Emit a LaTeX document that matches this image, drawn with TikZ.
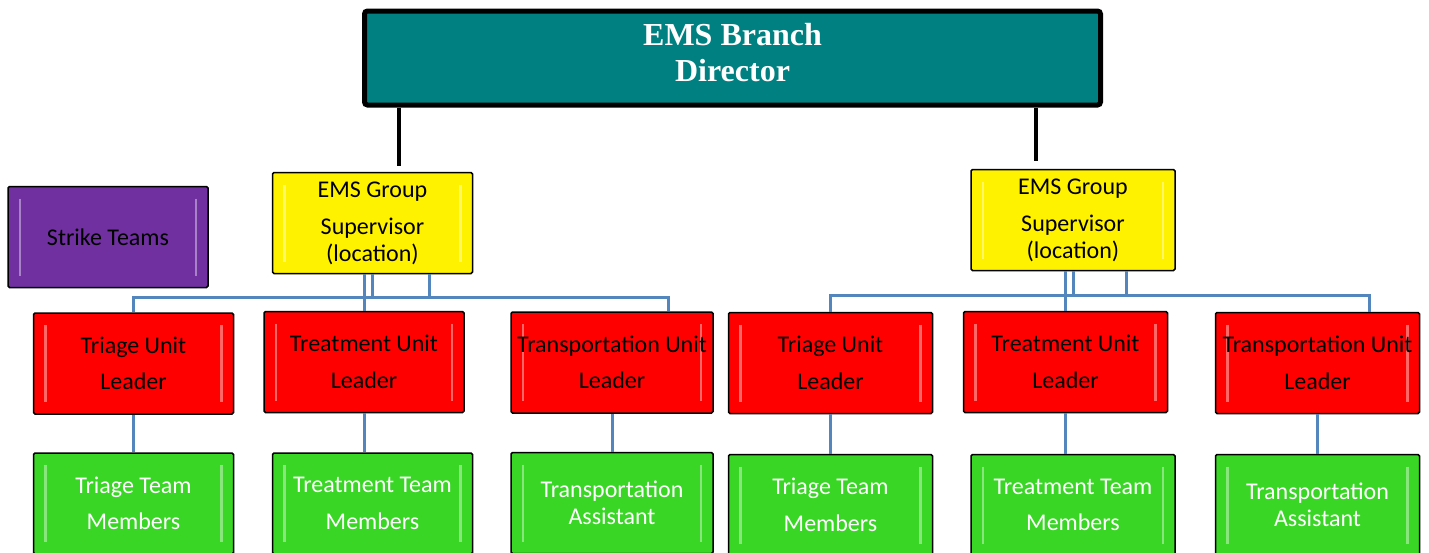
\documentclass[tikz,border=0pt]{standalone}
\usepackage{fontspec}
\setmainfont{Carlito}
\newfontfamily\headfont{Liberation Serif}
\definecolor{emsteal}{RGB}{0,128,128}
\definecolor{emspurple}{RGB}{112,48,160}
\definecolor{emsgreen}{RGB}{58,214,38}
\definecolor{linkblue}{RGB}{84,134,190}
\tikzset{
  bevel/.style={path picture={
    \draw[white,opacity=0.4,line width=2.5pt]
      ([shift={(12pt,-12pt)}]path picture bounding box.north west) --
      ([shift={(12pt,12pt)}]path picture bounding box.south west);
    \draw[white,opacity=0.4,line width=2.5pt]
      ([shift={(-12pt,-12pt)}]path picture bounding box.north east) --
      ([shift={(-12pt,12pt)}]path picture bounding box.south east);}},
  unit/.style={draw=black,line width=1.5pt,rounded corners=1.5pt,
    minimum width=200pt,minimum height=101pt,inner sep=0pt,align=center,
    font=\fontsize{24}{26.5}\selectfont,bevel},
  wide/.style={minimum width=204pt},
  leader/.style={unit,fill=red},
  member/.style={unit,fill=emsgreen,text=white},
  director/.style={draw=black,line width=5pt,rounded corners=3pt,fill=emsteal,
    minimum width=736pt,minimum height=94pt,align=center,text=white,text depth=11pt,
    font=\headfont\bfseries\fontsize{32}{36}\selectfont},
  link/.style={draw=linkblue,line width=3pt},
  boss/.style={draw=black,line width=4pt}
}
\begin{document}
\begin{tikzpicture}[x=1pt,y=-1pt]
\useasboundingbox (0,0) rectangle (1429,552);
\clip (0,0) rectangle (1429,552);
\node[director] (director) at (732.5,58) {EMS Branch\\Director};
\node[unit,fill=emspurple] (strike) at (108,237) {Strike Teams};
\node[unit,fill=yellow] (supL) at (372.5,223) {EMS Group\\[11pt]Supervisor\\(location)};
\node[unit,wide,fill=yellow] (supR) at (1073,220) {EMS Group\\[11pt]Supervisor\\(location)};

\node[leader] (triageL) at (133.5,363.5) {Triage Unit\\[10pt]Leader};
\node[leader] (treatL) at (364,362) {Treatment Unit\\[10pt]Leader};
\node[leader,minimum width=202pt] (transL) at (612,362.5) {Transportation Unit\\[10pt]Leader};
\node[leader,wide] (triageR) at (830.5,363) {Triage Unit\\[10pt]Leader};
\node[leader,wide] (treatR) at (1065.5,362) {Treatment Unit\\[10pt]Leader};
\node[leader,wide] (transR) at (1317.5,363) {Transportation Unit\\[10pt]Leader};

\node[member] (triageTL) at (133.5,503.5) {Triage Team\\[10pt]Members};
\node[member] (treatTL) at (372.5,503.5) {Treatment Team\\[10pt]Members};
\node[member,minimum width=202pt] (transTL) at (612,503) {Transportation\\Assistant};
\node[member,wide] (triageTR) at (830.5,505) {Triage Team\\[10pt]Members};
\node[member,wide] (treatTR) at (1073,505) {Treatment Team\\[10pt]Members};
\node[member,wide] (transTR) at (1317.5,505) {Transportation\\Assistant};

\draw[boss] ([xshift=26.5pt,yshift=6pt]supL.north) coordinate (upL) -- (upL |- director.south);
\draw[boss] ([xshift=-37pt,yshift=8pt]supR.north) coordinate (upR) -- (upR |- director.south);

\path (supL.south) ++(0,23) coordinate (busL);
\path (supR.south) ++(0,24) coordinate (busR);
\draw[link] (triageL.north) |- (busL) -| ([xshift=56pt]transL.north);
\draw[link] (supL.south) -- (busL) -| ([xshift=56.5pt]supL.south);
\draw[link] (treatL.north) -- (treatL.north |- supL.south);
\draw[link] (triageR.north) |- (busR) -| ([xshift=51.5pt]transR.north);
\draw[link] (supR.south) -- (busR) -| ([xshift=53pt]supR.south);
\draw[link] (treatR.north) -- (treatR.north |- supR.south);

\draw[link] (triageL) -- (triageTL);
\draw[link] (treatL.south) -- (treatL.south |- treatTL.north);
\draw[link] (transL) -- (transTL);
\draw[link] (triageR) -- (triageTR);
\draw[link] (treatR.south) -- (treatR.south |- treatTR.north);
\draw[link] (transR) -- (transTR);
\end{tikzpicture}
\end{document}
